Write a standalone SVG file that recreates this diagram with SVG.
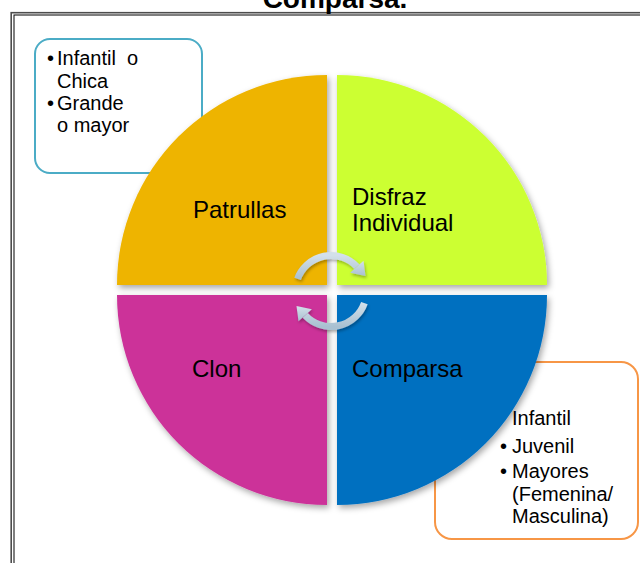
<svg xmlns="http://www.w3.org/2000/svg" width="640" height="563" viewBox="0 0 640 563">
<style>
.t{font-family:"Liberation Sans",Arial,sans-serif;fill:#000}
.q{font-size:24px}
.b{font-size:20px}
.box1{fill:#fff;stroke:#4BACC6;stroke-width:2}
.box2{fill:#fff;stroke:#F79646;stroke-width:2}
.arc{fill:none;stroke:url(#ag);stroke-width:7}
.head{fill:url(#ag)}
</style>
<defs>
<filter id="sh" x="-10%" y="-10%" width="130%" height="130%">
<feDropShadow dx="2" dy="3" stdDeviation="3" flood-color="#000" flood-opacity="0.35"/>
</filter>
<filter id="sh2" x="-20%" y="-20%" width="150%" height="150%">
<feDropShadow dx="1" dy="2" stdDeviation="1.5" flood-color="#000" flood-opacity="0.3"/>
</filter>
<linearGradient id="ag" x1="0" y1="0" x2="0" y2="1">
<stop offset="0" stop-color="#D3E0EA"/>
<stop offset="1" stop-color="#A9C0D1"/>
</linearGradient>
</defs>
<rect width="640" height="563" fill="#fff"/>
<g id="frame">
<rect x="11.2" y="12.7" width="700" height="600" fill="none" stroke="#4d4d4d" stroke-width="1.6"/>
<rect x="14" y="15" width="700" height="600" fill="none" stroke="#000" stroke-width="1"/>
</g>
<text id="title" class="t" x="335" y="8" text-anchor="middle" font-size="28" font-weight="bold">Comparsa.</text>
<g id="box-patrullas">
<rect class="box1" x="35" y="39" width="167" height="134" rx="15"/>
<text class="t b" x="47" y="65">•</text>
<text class="t b" x="57" y="65" xml:space="preserve">Infantil  o</text>
<text class="t b" x="57" y="88">Chica</text>
<text class="t b" x="47" y="110">•</text>
<text class="t b" x="57" y="110">Grande</text>
<text class="t b" x="57" y="132">o mayor</text>
</g>
<g id="box-comparsa">
<rect class="box2" x="435" y="362" width="203" height="177" rx="17"/>
<text class="t b" x="512" y="425">Infantil</text>
<text class="t b" x="500" y="453">•</text>
<text class="t b" x="512" y="453">Juvenil</text>
<text class="t b" x="500" y="478">•</text>
<text class="t b" x="512" y="478">Mayores</text>
<text class="t b" x="512" y="501">(Femenina/</text>
<text class="t b" x="512" y="523">Masculina)</text>
</g>
<g id="patrullas">
<path d="M327,285 L117,285 A210,210 0 0 1 327,75 Z" fill="#EEB400" filter="url(#sh)"/>
<text class="t q" x="193" y="218">Patrullas</text>
</g>
<g id="disfraz">
<path d="M337,285 L337,75 A210,210 0 0 1 547,285 Z" fill="#CCFF33" filter="url(#sh)"/>
<text class="t q" x="352" y="205">Disfraz</text>
<text class="t q" x="352" y="231">Individual</text>
</g>
<g id="comparsa">
<path d="M337,295 L547,295 A210,210 0 0 1 337,505 Z" fill="#0070C0" filter="url(#sh)"/>
<text class="t q" x="352" y="377">Comparsa</text>
</g>
<g id="clon">
<path d="M327,295 L327,505 A210,210 0 0 1 117,295 Z" fill="#CC3399" filter="url(#sh)"/>
<text class="t q" x="192" y="377">Clon</text>
</g>
<g id="connectors" filter="url(#sh2)">
<path class="arc" d="M297.6,278.9 A35.5,35.5 0 0 1 356.8,266.6"/>
<polygon class="head" points="363.5,260.7 350.1,272.7 365.5,276.0"/>
<path class="arc" d="M364.4,303.1 A35.5,35.5 0 0 1 305.2,315.4"/>
<polygon class="head" points="298.5,321.3 311.9,309.3 296.5,306.0"/>
</g>
</svg>
